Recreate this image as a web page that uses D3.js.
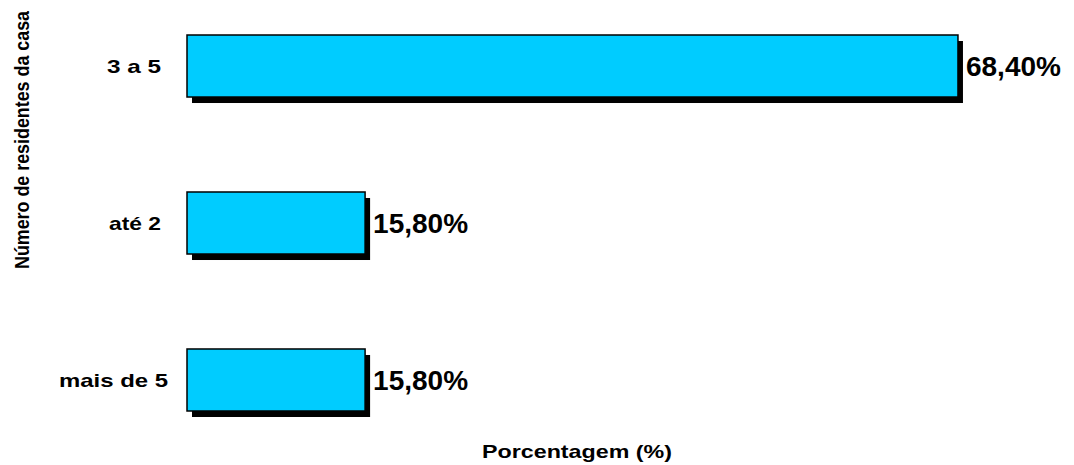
<!DOCTYPE html>
<html lang="pt">
  <head>
    <meta charset="utf-8">
    <title>Número de residentes da casa</title>
    <script src="https://d3js.org/d3.v7.min.js"></script>
    <style type="text/css">
      body, html {
        margin: 0;
        padding: 0;
        background: #ffffff;
        font-family: Arial, "Liberation Sans", sans-serif;
      }
      text { font-weight: bold; fill: #000; }
    </style>
  </head>
  <body>
    <script type="text/javascript">
      // data
      var categories = ["3 a 5", "até 2", "mais de 5"];
      var values = [68.4, 15.8, 15.8];
      var valueLabels = ["68,40%", "15,80%", "15,80%"];
      var xTitle = "Porcentagem (%)";
      var yTitle = "Número de residentes da casa";

      var w = 1074, h = 465;

      var svg = d3.select("body")
        .append("svg")
        .attr("width", w)
        .attr("height", h);

      var x = d3.scaleLinear()
        .domain([0, 70])
        .range([187, 187 + 789]);

      var y = d3.scaleBand()
        .domain(categories)
        .range([35, 411])
        .paddingInner(0.605)
        .paddingOuter(0);

      var rows = categories.map(function(c, i) {
        return { cat: c, value: values[i], label: valueLabels[i] };
      });

      // shadows
      svg.selectAll("rect.shadow")
        .data(rows)
        .enter()
        .append("rect")
        .attr("class", "shadow")
        .attr("x", function(d) { return x(0) + 5; })
        .attr("y", function(d) { return y(d.cat) + 6; })
        .attr("width", function(d) { return x(d.value) - x(0); })
        .attr("height", y.bandwidth())
        .style("fill", "#000");

      // bars
      svg.selectAll("rect.bar")
        .data(rows)
        .enter()
        .append("rect")
        .attr("class", "bar")
        .attr("x", x(0))
        .attr("y", function(d) { return y(d.cat); })
        .attr("width", function(d) { return x(d.value) - x(0); })
        .attr("height", y.bandwidth())
        .style("fill", "#00CCFF")
        .style("stroke", "#000")
        .style("stroke-width", 1.5);

      // value labels
      svg.selectAll("text.value")
        .data(rows)
        .enter()
        .append("text")
        .attr("class", "value")
        .attr("x", function(d) { return x(d.value) + 8; })
        .attr("y", function(d) { return y(d.cat) + y.bandwidth() / 2 + 10; })
        .attr("textLength", 95)
        .attr("lengthAdjust", "spacingAndGlyphs")
        .style("font-size", "27px")
        .text(function(d) { return d.label; });

      // category labels
      var catWidths = [54, 52, 109];
      svg.selectAll("text.cat")
        .data(rows)
        .enter()
        .append("text")
        .attr("class", "cat")
        .attr("x", function(d, i) { return i == 2 ? 168 : 161; })
        .attr("y", function(d) { return y(d.cat) + y.bandwidth() / 2 + 7; })
        .attr("text-anchor", "end")
        .attr("textLength", function(d, i) { return catWidths[i]; })
        .attr("lengthAdjust", "spacingAndGlyphs")
        .style("font-size", "18.5px")
        .text(function(d) { return d.cat; });

      // axis titles
      svg.append("text")
        .attr("x", 577)
        .attr("y", 458)
        .attr("text-anchor", "middle")
        .attr("textLength", 190)
        .attr("lengthAdjust", "spacingAndGlyphs")
        .style("font-size", "18.5px")
        .text(xTitle);

      svg.append("text")
        .attr("transform", "translate(29,140) rotate(-90)")
        .attr("text-anchor", "middle")
        .attr("textLength", 258)
        .attr("lengthAdjust", "spacingAndGlyphs")
        .style("font-size", "19.5px")
        .text(yTitle);
    </script>
  </body>
</html>
